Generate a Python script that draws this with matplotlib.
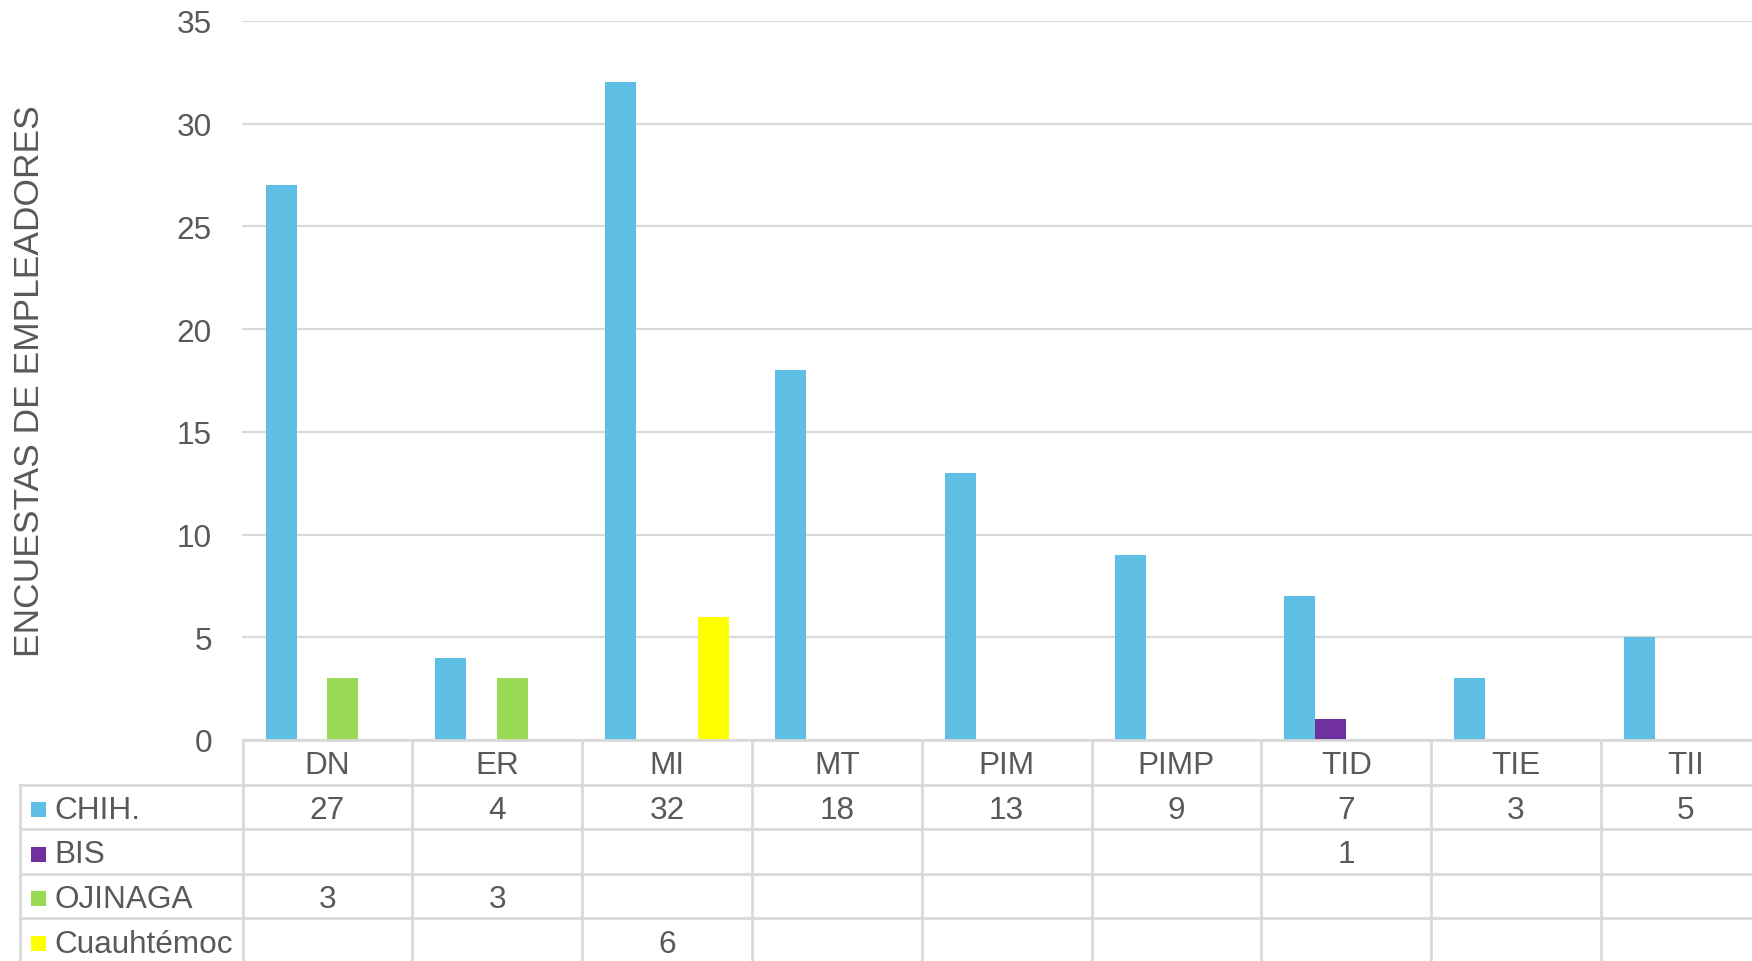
import matplotlib
matplotlib.use("Agg")
import matplotlib.pyplot as plt
import numpy as np

categories = ["DN", "ER", "MI", "MT", "PIM", "PIMP", "TID", "TIE", "TII"]
series_names = ["CHIH.", "BIS", "OJINAGA", "Cuauhtémoc"]
chih = [27, 4, 32, 18, 13, 9, 7, 3, 5]
bis = [None, None, None, None, None, None, 1, None, None]
ojinaga = [3, 3, None, None, None, None, None, None, None]
cuauhtemoc = [None, None, 6, None, None, None, None, None, None]
series_values = [chih, bis, ojinaga, cuauhtemoc]
colors = ["#5FBEE3", "#7030A0", "#99DA55", "#FFFF00"]
y_ticks = [0, 5, 10, 15, 20, 25, 30, 35]
y_label = "ENCUESTAS DE EMPLEADORES"

plt.rcParams['font.family'] = ['Liberation Sans', 'DejaVu Sans']
TXT = "#595959"
GRID = "#D9D9D9"
FS = 22.7

W, H = 1752, 962
fig = plt.figure(figsize=(W / 100, H / 100), dpi=100)

ax_left_px = 242.5
colw = 169.8
ncat = len(categories)
ax_right_px = ax_left_px + ncat * colw
y0_px = 741.0
ytop_px = 21.8

ax = fig.add_axes([ax_left_px / W, 1 - y0_px / H, (ax_right_px - ax_left_px) / W, (y0_px - ytop_px) / H])
ax.set_xlim(-0.5, ncat - 0.5)
ax.set_ylim(0, 35)

nser = len(series_names)
gap = 1.5
bw = 1.0 / (nser + gap)
x = np.arange(ncat)
for s, (vals, col) in enumerate(zip(series_values, colors)):
    off = (s - (nser - 1) / 2) * bw
    v = [0 if a is None else a for a in vals]
    ax.bar(x + off, v, width=bw, color=col, zorder=3, linewidth=0)

ax.set_yticks(y_ticks)
ax.set_yticklabels([str(t) for t in y_ticks], fontsize=FS, color=TXT)
ax.tick_params(axis='y', length=0, pad=22)
ax.set_xticks([])
ax.grid(axis='y', color=GRID, linewidth=1.6, zorder=0)
for sp in ["left", "right", "top", "bottom"]:
    ax.spines[sp].set_visible(False)
ax.set_axisbelow(True)

fig.text(30 / W, 1 - 381 / H, y_label, rotation=90, ha='center', va='center',
         fontsize=25.5, color=TXT)

# Data table, drawn in pixel coordinates
tax = fig.add_axes([0, 0, 1, 1], facecolor='none')
tax.set_xlim(0, W)
tax.set_ylim(H, 0)
tax.axis('off')

row_h = 44.6
rows_y = [y0_px + i * row_h for i in range(nser + 2)]
leg_left = 20
lw = 2.0

tax.plot([ax_left_px, ax_right_px + 50], [rows_y[0], rows_y[0]], color=GRID, lw=lw)
for yy in rows_y[1:]:
    tax.plot([leg_left, ax_right_px + 50], [yy, yy], color=GRID, lw=lw)
for i in range(ncat + 1):
    xx = ax_left_px + i * colw
    tax.plot([xx, xx], [rows_y[0], H + 5], color=GRID, lw=lw)
tax.plot([leg_left, leg_left], [rows_y[1], H + 5], color=GRID, lw=lw)

for i, c in enumerate(categories):
    xc = ax_left_px + (i + 0.5) * colw
    tax.text(xc, (rows_y[0] + rows_y[1]) / 2 + 3, c, ha='center', va='center',
             fontsize=FS, color=TXT)

for s, (name, vals, col) in enumerate(zip(series_names, series_values, colors)):
    yc = (rows_y[s + 1] + rows_y[s + 2]) / 2 + 3
    tax.add_patch(plt.Rectangle((31, yc - 8), 15, 15, color=col, lw=0))
    tax.text(54, yc, name, ha='left', va='center', fontsize=FS, color=TXT)
    for i, v in enumerate(vals):
        if v is not None:
            xc = ax_left_px + (i + 0.5) * colw
            tax.text(xc, yc, str(v), ha='center', va='center', fontsize=FS, color=TXT)

fig.savefig("out.png", dpi=100)
